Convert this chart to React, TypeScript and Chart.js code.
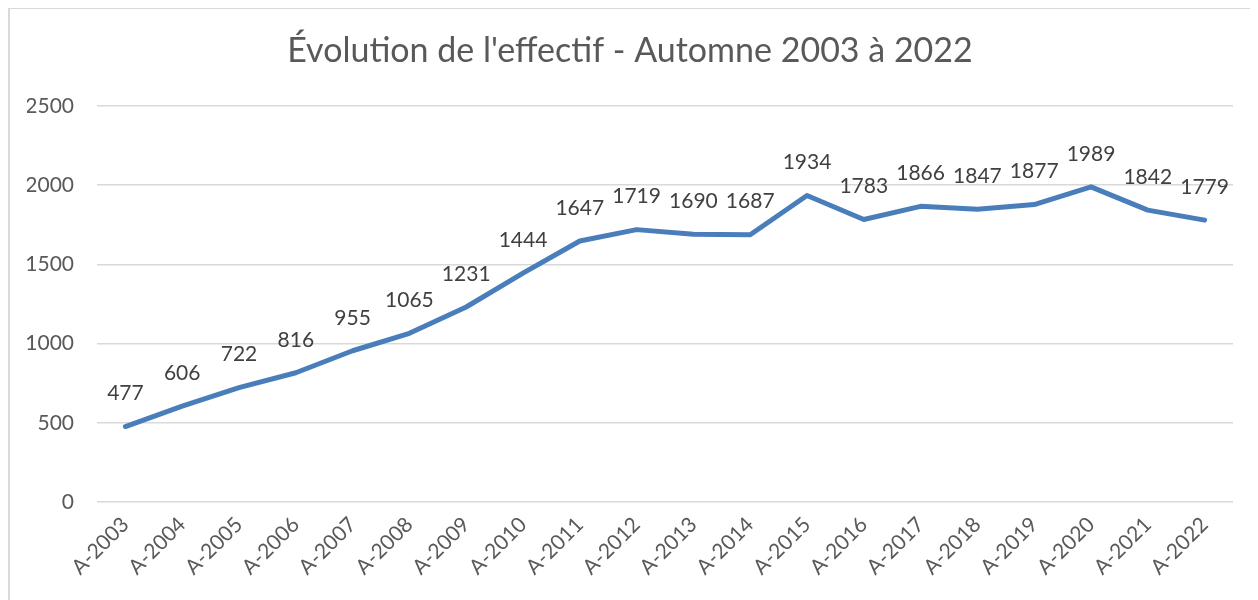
import React, { useEffect, useRef } from "react";
import { Chart, registerables } from "chart.js";

Chart.register(...registerables);

const categories = ["A-2003","A-2004","A-2005","A-2006","A-2007","A-2008","A-2009","A-2010","A-2011","A-2012","A-2013","A-2014","A-2015","A-2016","A-2017","A-2018","A-2019","A-2020","A-2021","A-2022"];
const effectif = [477,606,722,816,955,1065,1231,1444,1647,1719,1690,1687,1934,1783,1866,1847,1877,1989,1842,1779];
const titleText = "Évolution de l'effectif - Automne 2003 à 2022";
const yMin = 0;
const yMax = 2500;
const yStep = 500;

const FONT = "Lato, 'Open Sans', sans-serif";

const labelPlugin = {
  id: "pointLabels",
  afterDatasetsDraw(chart: any) {
    const ctx = chart.ctx;
    const meta = chart.getDatasetMeta(0);
    const data = chart.data.datasets[0].data as number[];
    ctx.save();
    ctx.font = `21px ${FONT}`;
    ctx.fillStyle = "#404040";
    ctx.textAlign = "center";
    ctx.textBaseline = "middle";
    meta.data.forEach((pt: any, i: number) => {
      ctx.fillText(String(data[i]), pt.x, pt.y - 33);
    });
    ctx.restore();
  },
};

export default function App() {
  const ref = useRef<HTMLCanvasElement | null>(null);
  useEffect(() => {
    if (!ref.current) return;
    const chart = new Chart(ref.current, {
      type: "line",
      data: {
        labels: categories,
        datasets: [
          {
            data: effectif,
            borderColor: "#4A7EBB",
            borderWidth: 5,
            pointRadius: 0,
            tension: 0,
            fill: false,
            borderCapStyle: "round",
            borderJoinStyle: "round",
          },
        ],
      },
      options: {
        animation: false,
        responsive: false,
        layout: { autoPadding: false, padding: { left: 17, right: 25, top: 8, bottom: 11 } },
        plugins: {
          legend: { display: false },
          tooltip: { enabled: false },
          title: {
            display: true,
            text: titleText,
            color: "#595959",
            font: { family: FONT, size: 34, weight: "normal" },
            padding: { top: 14, bottom: 34 },
          },
        },
        scales: {
          x: {
            offset: true,
            grid: { display: false, drawTicks: false },
            border: { display: false },
            ticks: {
              color: "#595959",
              font: { family: FONT, size: 21 },
              maxRotation: 45,
              minRotation: 45,
              padding: 10,
              autoSkip: false,
            },
          },
          y: {
            min: yMin,
            max: yMax,
            grid: { color: "#D9D9D9", lineWidth: 1.5, drawTicks: false },
            border: { display: false },
            afterFit: (s: any) => {
              s.width = 70;
            },
            ticks: {
              stepSize: yStep,
              color: "#595959",
              font: { family: FONT, size: 21 },
              padding: 23,
              callback: (v: any) => String(v),
            },
          },
        },
      },
      plugins: [labelPlugin],
    });
    return () => chart.destroy();
  }, []);
  return (
    <div style={{ width: 1250, height: 594, borderLeft: "2px solid #D9D9D9", borderTop: "2px solid #D9D9D9", marginTop: -1, boxSizing: "border-box" }}>
      <canvas ref={ref} width={1248} height={592} style={{ display: "block" }} />
    </div>
  );
}
